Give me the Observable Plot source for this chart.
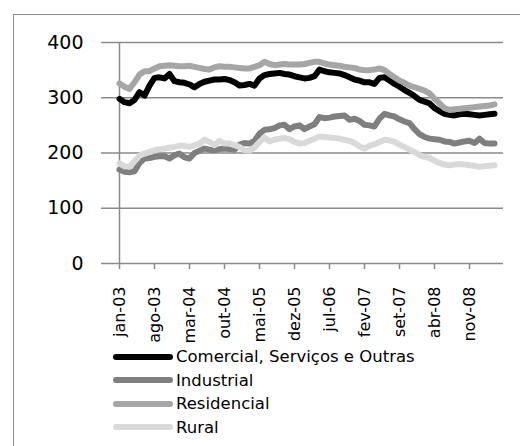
<!DOCTYPE html>
<html><head><meta charset="utf-8">
<script src="https://cdn.jsdelivr.net/npm/d3@7"></script>
<script src="https://cdn.jsdelivr.net/npm/@observablehq/plot@0.6"></script>
<style>
body{margin:0;background:#fff;font-family:"DejaVu Sans",sans-serif;}
#wrap{position:relative;width:520px;height:446px;overflow:hidden;background:#fff}
#frame{position:absolute;left:13px;top:14px;width:600px;height:600px;border-left:1.5px solid #8a8a8a;border-top:1.5px solid #8a8a8a;}
#chart{position:absolute;left:0;top:0}
#legend{position:absolute;left:112px;top:345px;}
.item{display:flex;align-items:center;height:23.5px;font-size:16.5px;color:#000;white-space:nowrap}
.item svg{margin-right:2px}
</style></head><body>
<div id="wrap"><div id="frame"></div><div id="chart"></div><div id="legend"></div></div>
<script>
const monthNames = ["jan","fev","mar","abr","mai","jun","jul","ago","set","out","nov","dez"];
const years = ["03","04","05","06","07","08","09"];
const nMonths = 76;
const months = [];
for (const yy of years) for (const m of monthNames) months.push(m + "-" + yy);
months.length = nMonths;

const tickLabels = ["jan-03","ago-03","mar-04","out-04","mai-05","dez-05","jul-06","fev-07","set-07","abr-08","nov-08"];
const yTicks = [0, 100, 200, 300, 400];

const seriesNames = ["Comercial, Serviços e Outras", "Industrial", "Residencial", "Rural"];
const seriesColors = ["#000000", "#7f7f7f", "#a6a6a6", "#d9d9d9"];

const comercial = [298,292,290,296,310,304,322,336,337,335,343,330,328,327,324,319,325,329,331,333,
  333,334,332,328,322,323,325,322,335,341,343,344,345,343,342,339,337,335,336,339,
  351,348,346,345,344,341,337,333,331,328,328,325,336,337,331,325,320,314,309,303,
  296,293,290,281,276,271,269,268,270,271,270,269,268,269,270,271];
const industrial = [170,166,165,167,182,190,191,193,194,194,190,196,199,192,190,200,204,208,206,205,
  207,208,207,206,215,218,217,222,235,242,243,245,250,251,243,248,250,243,248,252,
  265,263,264,266,267,268,260,262,258,251,250,248,262,271,268,266,261,257,254,243,
  234,229,226,225,224,221,220,217,219,221,222,218,226,218,217,217];
const residencial = [326,320,316,328,342,348,348,353,357,358,359,358,357,357,358,356,354,352,351,355,
  357,356,356,355,354,353,353,356,359,365,361,359,360,361,360,360,360,361,363,365,
  365,362,360,359,358,356,355,354,351,350,350,351,353,350,343,337,331,327,322,319,
  316,313,308,298,290,281,278,279,280,281,282,283,284,285,286,288];
const rural = [181,176,175,185,195,199,202,205,207,208,210,211,213,213,211,214,217,224,220,214,
  222,217,217,214,211,205,204,210,220,228,221,224,226,227,225,220,217,218,222,226,
  230,229,228,227,226,224,222,218,212,208,213,216,220,224,223,220,215,211,206,202,
  196,193,191,186,182,179,178,179,180,179,178,177,175,176,177,178];

const seriesValues = [comercial, industrial, residencial, rural];
const data = [];
seriesNames.forEach((s, k) => seriesValues[k].forEach((v, i) => data.push({month: months[i], value: v, series: s})));

const chart = Plot.plot({
  width: 520, height: 350,
  marginLeft: 110, marginRight: 17, marginTop: 42, marginBottom: 87,
  style: {fontFamily: "DejaVu Sans", background: "transparent", overflow: "visible"},
  x: {type: "point", domain: months, padding: 0},
  y: {domain: [0, 400]},
  color: {domain: seriesNames, range: seriesColors},
  marks: [
    Plot.ruleY(yTicks, {stroke: "#8a8a8a", strokeWidth: 1.5}),
    Plot.axisY({ticks: yTicks, tickSize: 9, tickPadding: 18, fontSize: 19, stroke: "#8a8a8a", fill: "#000", strokeWidth: 1.5, label: null}),
    Plot.ruleX([months[0]], {stroke: "#8a8a8a", strokeWidth: 1.5}),
    Plot.axisX({ticks: tickLabels, tickSize: 6, tickPadding: 17, tickRotate: -90, fontSize: 16, stroke: "#8a8a8a", fill: "#000", strokeWidth: 1.5, label: null, dx: 0}),
    Plot.line(data, {x: "month", y: "value", z: "series", stroke: "series", strokeWidth: 6, strokeLinecap: "round", strokeLinejoin: "round"})
  ]
});
document.getElementById("chart").appendChild(chart);

const legend = document.getElementById("legend");
seriesNames.forEach((s, k) => {
  const item = document.createElement("div");
  item.className = "item";
  item.innerHTML = `<svg width="62" height="10"><line x1="4" y1="5" x2="58" y2="5" stroke="${seriesColors[k]}" stroke-width="6" stroke-linecap="round"/></svg><span>${s}</span>`;
  legend.appendChild(item);
});
</script>
</body></html>
